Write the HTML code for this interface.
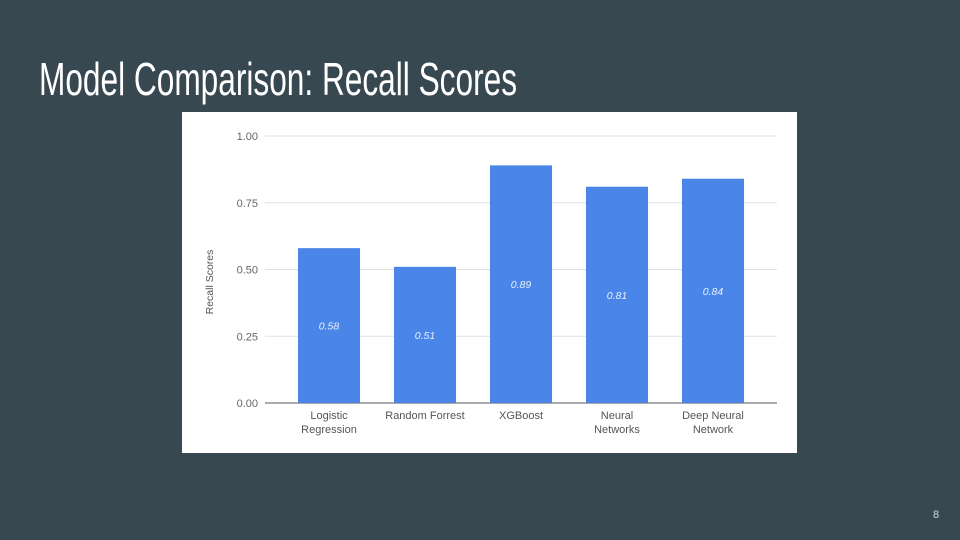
<!DOCTYPE html>
<html><head><meta charset="utf-8"><style>
html,body{margin:0;padding:0;background:#374851;}
svg{display:block;}
text{font-family:"Liberation Sans",sans-serif;}
</style></head><body>
<svg id="s" width="960" height="540" viewBox="0 0 960 540">
<rect x="0" y="0" width="960" height="540" fill="#374851"/>
<text x="39" y="95" font-size="46" fill="#ffffff" textLength="478" lengthAdjust="spacingAndGlyphs">Model Comparison: Recall Scores</text>
<text x="936" y="518" font-size="11" fill="#cfd8dc" text-anchor="middle">8</text>
<rect x="182" y="112" width="615" height="341" fill="#ffffff"/>
<g id="grid"></g>
<g id="bars"></g>
<text transform="translate(213,282) rotate(-90)" font-size="10.5" fill="#555" text-anchor="middle">Recall Scores</text>
</svg>
<script>
const categories = [["Logistic","Regression"],["Random Forrest"],["XGBoost"],["Neural","Networks"],["Deep Neural","Network"]];
const values = [0.58, 0.51, 0.89, 0.81, 0.84];
const valueLabels = ["0.58","0.51","0.89","0.81","0.84"];
const yTicks = [0, 0.25, 0.5, 0.75, 1.0];
const yTickLabels = ["0.00","0.25","0.50","0.75","1.00"];

const NS = "http://www.w3.org/2000/svg";
const y0 = 403, y1 = 136, xL = 265, xR = 777;
function yScale(v){ return y0 - (y0 - y1) * v; }
function xCenter(i){ return 329 + i * 96; }
const barW = 62;
function mk(tag, attrs, parent){ const e = document.createElementNS(NS, tag); for (const k in attrs) e.setAttribute(k, attrs[k]); parent.appendChild(e); return e; }
const grid = document.getElementById('grid'), bars = document.getElementById('bars');
yTicks.forEach((t, i) => {
  const l = mk('line', {x1:xL, x2:xR, y1:yScale(t), y2:yScale(t), stroke: i===0 ? '#777' : '#e0e0e0', 'stroke-width': i===0 ? 1.3 : 1}, grid);
  
  
  const tx = mk('text', {x:258, y:yScale(t)+4, 'font-size':11, fill:'#666', 'text-anchor':'end'}, grid);
  tx.textContent = yTickLabels[i];
  
  
});
values.forEach((v, i) => {
  const cx = xCenter(i), top = yScale(v);
  const r = mk('rect', {x:cx-barW/2, y:top, width:barW, height:y0-top, fill:'#4a86e8'}, bars);
  
  
  const vl = mk('text', {x:cx, y:(top+y0)/2+4, 'font-size':10.5, 'font-style':'italic', fill:'#e8f0fe', 'text-anchor':'middle'}, bars);
  vl.textContent = valueLabels[i];
  
  
  categories[i].forEach((line, j) => {
    const cl = mk('text', {x:cx, y:419 + j*14, 'font-size':11, fill:'#555', 'text-anchor':'middle'}, bars);
    cl.textContent = line;
    
    
  });
});
</script>
</body></html>
